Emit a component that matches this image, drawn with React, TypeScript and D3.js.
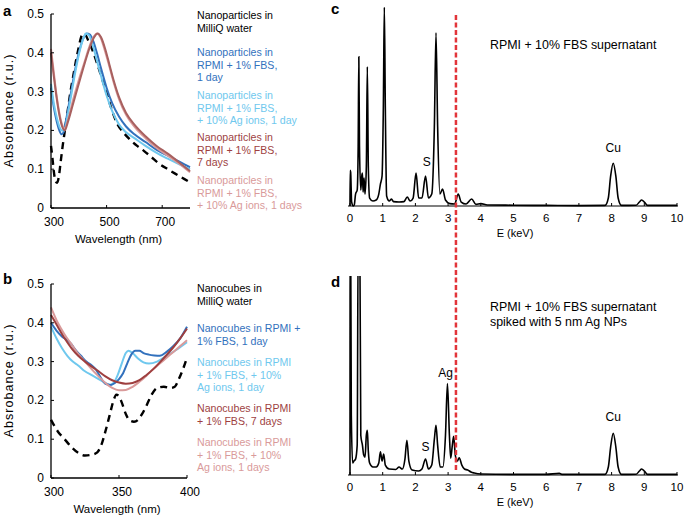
import React from "react";
import * as d3 from "d3";

// ---------- DATA ----------
const aXTicks = [300, 500, 700];
const bXTicks = [300, 350, 400];
const absTicks = [0, 0.1, 0.2, 0.3, 0.4, 0.5];
const eTicks = [0, 1, 2, 3, 4, 5, 6, 7, 8, 9, 10];

// Panel a: nanoparticles (wavelength nm, absorbance)
const aMilliQ: [number, number][] = [[300,0.16],[305,0.13],[310,0.095],[316,0.07],[322,0.065],[328,0.08],[335,0.12],[342,0.16],[350,0.2],[360,0.25],[370,0.3],[380,0.34],[390,0.38],[400,0.415],[408,0.44],[416,0.45],[425,0.445],[435,0.43],[450,0.405],[467,0.37],[485,0.33],[503,0.29],[520,0.25],[540,0.215],[560,0.195],[586,0.175],[610,0.16],[633,0.148],[660,0.132],[684,0.117],[720,0.1],[760,0.083],[800,0.066]];
const aRpmi1d: [number, number][] = [[300,0.31],[310,0.26],[320,0.225],[330,0.2],[338,0.19],[345,0.195],[355,0.23],[370,0.29],[385,0.35],[400,0.4],[415,0.435],[428,0.45],[440,0.447],[452,0.43],[465,0.4],[480,0.36],[500,0.31],[520,0.27],[545,0.235],[570,0.21],[600,0.19],[640,0.17],[680,0.15],[720,0.135],[760,0.12],[800,0.105]];
const aRpmiAg1d: [number, number][] = [[300,0.32],[310,0.27],[320,0.235],[330,0.21],[340,0.2],[348,0.2],[360,0.24],[375,0.3],[390,0.36],[405,0.41],[418,0.44],[425,0.45],[437,0.445],[450,0.42],[465,0.38],[480,0.34],[500,0.29],[520,0.25],[545,0.215],[570,0.195],[600,0.18],[640,0.16],[680,0.142],[720,0.127],[760,0.113],[800,0.1]];
const aRpmi7d: [number, number][] = [[300,0.4],[310,0.34],[320,0.285],[330,0.24],[340,0.21],[350,0.2],[360,0.22],[380,0.27],[400,0.32],[420,0.37],[440,0.415],[455,0.44],[468,0.45],[480,0.44],[495,0.41],[510,0.37],[525,0.33],[545,0.285],[570,0.245],[600,0.215],[640,0.185],[680,0.16],[720,0.14],[760,0.118],[800,0.095]];
const aRpmiAg1ds: [number, number][] = [[300,0.41],[310,0.35],[320,0.29],[330,0.245],[340,0.215],[350,0.205],[360,0.225],[380,0.28],[400,0.33],[420,0.375],[440,0.42],[455,0.443],[465,0.45],[478,0.44],[492,0.41],[508,0.37],[525,0.325],[545,0.28],[570,0.24],[600,0.21],[640,0.18],[680,0.155],[720,0.135],[760,0.115],[800,0.092]];

// Panel b: nanocubes
const bMilliQ: [number, number][] = [[300,0.15],[305,0.12],[310,0.1],[315,0.08],[320,0.065],[325,0.058],[330,0.06],[334,0.066],[337,0.085],[340,0.12],[343,0.16],[346,0.2],[348,0.215],[350,0.21],[352,0.195],[355,0.165],[358,0.148],[361,0.145],[364,0.15],[367,0.165],[370,0.185],[374,0.215],[378,0.232],[383,0.235],[388,0.232],[391,0.235],[394,0.255],[397,0.28],[400,0.31]];
const bRpmi1d: [number, number][] = [[300,0.4],[304,0.38],[308,0.365],[312,0.355],[315,0.345],[318,0.33],[322,0.315],[326,0.3],[330,0.29],[333,0.28],[336,0.262],[340,0.243],[344,0.24],[347,0.245],[350,0.255],[353,0.27],[356,0.295],[359,0.318],[362,0.328],[365,0.328],[368,0.322],[372,0.318],[376,0.316],[380,0.315],[385,0.325],[390,0.34],[395,0.36],[400,0.39]];
const bRpmiAg1d: [number, number][] = [[300,0.39],[304,0.36],[308,0.335],[312,0.315],[316,0.3],[320,0.29],[325,0.275],[330,0.265],[335,0.255],[340,0.245],[343,0.24],[346,0.245],[349,0.265],[352,0.295],[355,0.322],[357,0.328],[360,0.322],[364,0.308],[368,0.298],[372,0.295],[378,0.3],[385,0.315],[392,0.33],[400,0.35]];
const bRpmi7d: [number, number][] = [[300,0.42],[305,0.39],[310,0.36],[315,0.335],[320,0.315],[325,0.3],[330,0.287],[335,0.275],[340,0.262],[345,0.252],[350,0.246],[355,0.243],[360,0.245],[365,0.252],[370,0.265],[375,0.28],[380,0.298],[385,0.317],[390,0.337],[395,0.36],[400,0.385]];
const bRpmiAg1ds: [number, number][] = [[300,0.44],[305,0.4],[310,0.37],[315,0.345],[320,0.32],[325,0.3],[330,0.28],[335,0.262],[340,0.245],[345,0.232],[350,0.226],[355,0.227],[360,0.235],[365,0.248],[370,0.263],[375,0.28],[380,0.295],[385,0.31],[390,0.325],[395,0.34],[400,0.355]];

// Panel c / d: EDX spectra (keV, relative counts)
const cSpectrum: [number, number][] = [[0,0],[0.005,0.18],[0.02,0.17],[0.05,0.02],[0.1,0.0],[0.13,0.005],[0.17,0.06],[0.22,0.08],[0.25,0.3],[0.27,0.75],[0.29,0.3],[0.33,0.08],[0.36,0.15],[0.38,0.165],[0.4,0.07],[0.43,0.14],[0.46,0.06],[0.5,0.2],[0.53,0.7],[0.56,0.2],[0.6,0.04],[0.7,0.025],[0.8,0.03],[0.88,0.06],[0.93,0.11],[0.98,0.15],[1.02,0.5],[1.05,1.0],[1.08,0.5],[1.12,0.05],[1.2,0.025],[1.27,0.035],[1.33,0.022],[1.5,0.02],[1.65,0.022],[1.75,0.045],[1.84,0.025],[1.93,0.04],[2.02,0.165],[2.1,0.04],[2.2,0.04],[2.31,0.15],[2.4,0.04],[2.5,0.06],[2.58,0.4],[2.63,0.87],[2.68,0.4],[2.75,0.06],[2.83,0.085],[2.92,0.03],[3.05,0.012],[3.2,0.01],[3.31,0.06],[3.4,0.02],[3.55,0.01],[3.72,0.035],[3.85,0.008],[4.0,0.012],[4.2,0.005],[5,0.004],[6,0.003],[7,0.002],[7.8,0.003],[7.9,0.04],[7.97,0.15],[8.05,0.215],[8.13,0.15],[8.2,0.04],[8.3,0.003],[8.75,0.004],[8.85,0.02],[8.92,0.03],[9.0,0.02],[9.1,0.003],[10,0.003]];
const dSpectrum: [number, number][] = [[0,0],[0.005,1.2],[0.02,1.2],[0.04,0.3],[0.08,0.06],[0.12,0.07],[0.17,0.08],[0.22,0.15],[0.25,1.2],[0.3,1.2],[0.33,0.2],[0.38,0.15],[0.42,0.1],[0.46,0.09],[0.5,0.2],[0.53,0.225],[0.56,0.12],[0.6,0.06],[0.7,0.04],[0.8,0.04],[0.88,0.06],[0.93,0.117],[0.98,0.07],[1.03,0.105],[1.08,0.05],[1.2,0.03],[1.4,0.028],[1.5,0.04],[1.6,0.03],[1.68,0.08],[1.74,0.175],[1.8,0.07],[1.9,0.025],[2.1,0.02],[2.2,0.03],[2.31,0.08],[2.4,0.03],[2.5,0.05],[2.58,0.18],[2.63,0.25],[2.68,0.15],[2.76,0.04],[2.84,0.04],[2.92,0.2],[2.98,0.46],[3.04,0.2],[3.08,0.085],[3.13,0.15],[3.17,0.195],[3.22,0.1],[3.28,0.07],[3.34,0.087],[3.42,0.05],[3.5,0.03],[3.6,0.025],[3.7,0.015],[3.8,0.01],[4,0.005],[5,0.003],[6,0.003],[6.4,0.008],[6.5,0.003],[7.8,0.003],[7.9,0.04],[7.97,0.14],[8.05,0.21],[8.13,0.14],[8.2,0.04],[8.3,0.003],[8.75,0.004],[8.85,0.02],[8.92,0.03],[9.0,0.02],[9.1,0.003],[10,0.003]];

const agLineKeV = 3.24;

const aLegend = [
  { lines: ["Nanoparticles in", "MilliQ water"], color: "#000000" },
  { lines: ["Nanoparticles in", "RPMI + 1% FBS,", "1 day"], color: "#3271bd" },
  { lines: ["Nanoparticles in", "RPMI + 1% FBS,", "+ 10% Ag ions, 1 day"], color: "#6fc8ee" },
  { lines: ["Nanoparticles in", "RPMI + 1% FBS,", "7 days"], color: "#9e3f3f" },
  { lines: ["Nanoparticles in", "RPMI + 1% FBS,", "+ 10% Ag ions, 1 days"], color: "#d99a9a" },
];
const bLegend = [
  { lines: ["Nanocubes in", "MilliQ water"], color: "#000000" },
  { lines: ["Nanocubes in RPMI +", "1% FBS, 1 day"], color: "#3271bd" },
  { lines: ["Nanocubes in RPMI", "+ 1% FBS, + 10%", "Ag ions, 1 day"], color: "#6fc8ee" },
  { lines: ["Nanocubes in RPMI", "+ 1% FBS, 7 days"], color: "#9e3f3f" },
  { lines: ["Nanocubes in RPMI", "+ 1% FBS, + 10%", "Ag ions, 1 days"], color: "#d99a9a" },
];

const FONT = "'Liberation Sans', Arial, Helvetica, sans-serif";

function fmt(v: number) {
  return v === 0 ? "0" : String(+v.toFixed(1));
}

function AbsPanel(props: {
  x: d3.ScaleLinear<number, number>;
  y: d3.ScaleLinear<number, number>;
  xTicks: number[];
  series: { data: [number, number][]; color: string; dashed?: boolean }[];
  yTitle: string;
  label: string;
  labelY: number;
  legend: { lines: string[]; color: string }[];
  legendTops: number[];
}) {
  const { x, y, xTicks, series, yTitle, label, labelY, legend, legendTops } = props;
  const line = d3.line<[number, number]>().x((d) => x(d[0])).y((d) => y(d[1])).curve(d3.curveMonotoneX);
  const [x0, x1] = x.range();
  const [y0, y1] = y.range();
  return (
    <g fontFamily={FONT}>
      <text x={3} y={labelY} fontSize={15} fontWeight="bold">{label}</text>
      {series.map((s, i) => (
        <path key={i} d={line(s.data) || ""} fill="none" stroke={s.color}
          strokeWidth={s.dashed ? 2.4 : 2} strokeDasharray={s.dashed ? "7,5" : undefined} />
      ))}
      <line x1={x0} x2={x0} y1={y0} y2={y1} stroke="#000" strokeWidth={1.3} />
      <line x1={x0} x2={x1} y1={y0} y2={y0} stroke="#000" strokeWidth={1.3} />
      {absTicks.map((t) => (
        <g key={t}>
          <line x1={x0} x2={x0 + 3} y1={y(t)} y2={y(t)} stroke="#000" />
          <text x={44} y={y(t) + 4} fontSize={12} textAnchor="end">{fmt(t)}</text>
        </g>
      ))}
      {xTicks.map((t) => (
        <g key={t}>
          <line x1={x(t)} x2={x(t)} y1={y0} y2={y0 - 3} stroke="#000" />
          <text x={x(t) + 3} y={y0 + 18} fontSize={12} textAnchor="middle">{t}</text>
        </g>
      ))}
      <text x={(x0 + x1) / 2 - 2} y={y0 + 35} fontSize={11.5} textAnchor="middle">Wavelength (nm)</text>
      <text transform={`translate(13,${(y0 + y1) / 2}) rotate(-90)`} fontSize={12.5} textAnchor="middle"
        textLength={113} lengthAdjust="spacing">{yTitle}</text>
      {legend.map((g, gi) =>
        g.lines.map((l, li) => (
          <text key={gi + "-" + li} x={197} y={legendTops[gi] + li * 12.6} fontSize={10.6} fill={g.color}>{l}</text>
        ))
      )}
    </g>
  );
}

function SpecPanel(props: {
  x: d3.ScaleLinear<number, number>;
  y: d3.ScaleLinear<number, number>;
  data: [number, number][];
  label: string;
  labelY: number;
  clipId: string;
  notes: { text: string; keV: number; v: number }[];
  title: string[];
  titleY: number;
}) {
  const { x, y, data, label, labelY, clipId, notes, title, titleY } = props;
  const line = d3.line<[number, number]>().x((d) => x(d[0])).y((d) => y(d[1])).curve(d3.curveMonotoneX);
  const [x0, x1] = x.range();
  const [y0, y1] = y.range();
  return (
    <g fontFamily={FONT}>
      <defs>
        <clipPath id={clipId}>
          <rect x={x0 - 5} y={y1} width={x1 - x0 + 10} height={y0 - y1 + 2} />
        </clipPath>
      </defs>
      <text x={331} y={labelY} fontSize={15} fontWeight="bold">{label}</text>
      <path d={line(data) || ""} fill="none" stroke="#000" strokeWidth={1.6} clipPath={`url(#${clipId})`} />
      <line x1={x0 - 2} x2={x1 + 1} y1={y0} y2={y0} stroke="#000" strokeWidth={1.1} />
      {eTicks.map((t) => (
        <g key={t}>
          <line x1={x(t)} x2={x(t)} y1={y0} y2={y0 - 3} stroke="#000" />
          <text x={x(t)} y={y0 + 16} fontSize={11.5} textAnchor="middle">{t}</text>
        </g>
      ))}
      <text x={515} y={y0 + 31} fontSize={11} textAnchor="middle">E (keV)</text>
      {notes.map((n, i) => (
        <text key={i} x={x(n.keV)} y={y(n.v)} fontSize={12} textAnchor="middle">{n.text}</text>
      ))}
      {title.map((t, i) => (
        <text key={i} x={490} y={titleY + i * 15} fontSize={12.4}>{t}</text>
      ))}
    </g>
  );
}

export default function App() {
  const xA = d3.scaleLinear().domain([300, 800]).range([51, 190]);
  const yA = d3.scaleLinear().domain([0, 0.5]).range([208, 14]);
  const xB = d3.scaleLinear().domain([300, 400]).range([51, 187]);
  const yB = d3.scaleLinear().domain([0, 0.5]).range([478, 284]);
  const xC = d3.scaleLinear().domain([0, 10]).range([350, 677]);
  const yC = d3.scaleLinear().domain([0, 1]).range([206, 7]);
  const yD = d3.scaleLinear().domain([0, 1]).range([475, 276]);

  return (
    <svg width={685} height={515} style={{ position: "absolute", left: 0, top: 0, background: "#fff" }}>
      <rect width={685} height={515} fill="#fff" />
      <AbsPanel x={xA} y={yA} xTicks={aXTicks} label="a" labelY={16} yTitle="Absorbance (r.u.)"
        series={[
          { data: aMilliQ, color: "#000", dashed: true },
          { data: aRpmi1d, color: "#3271bd" },
          { data: aRpmiAg1d, color: "#6fc8ee" },
          { data: aRpmiAg1ds, color: "#d99a9a" },
          { data: aRpmi7d, color: "#a8605f" },
        ]}
        legend={aLegend} legendTops={[19, 56, 99, 141, 184]} />
      <AbsPanel x={xB} y={yB} xTicks={bXTicks} label="b" labelY={284} yTitle="Absrobance (r.u.)"
        series={[
          { data: bMilliQ, color: "#000", dashed: true },
          { data: bRpmiAg1d, color: "#6fc8ee" },
          { data: bRpmi1d, color: "#3271bd" },
          { data: bRpmiAg1ds, color: "#d99a9a" },
          { data: bRpmi7d, color: "#9e3f3f" },
        ]}
        legend={bLegend} legendTops={[292, 332, 366, 412, 446]} />
      <SpecPanel x={xC} y={yC} data={cSpectrum} label="c" labelY={14} clipId="clipC"
        notes={[{ text: "S", keV: 2.35, v: 0.2 }, { text: "Cu", keV: 8.05, v: 0.27 }]}
        title={["RPMI + 10% FBS supernatant"]} titleY={49} />
      <SpecPanel x={xC} y={yD} data={dSpectrum} label="d" labelY={287} clipId="clipD"
        notes={[{ text: "S", keV: 2.31, v: 0.12 }, { text: "Ag", keV: 2.92, v: 0.49 }, { text: "Cu", keV: 8.05, v: 0.27 }]}
        title={["RPMI + 10% FBS supernatant", "spiked with 5 nm Ag NPs"]} titleY={311} />
      <line x1={xC(agLineKeV)} x2={xC(agLineKeV)} y1={15} y2={470} stroke="#e2343a" strokeWidth={2.5} strokeDasharray="5,2.5" />
    </svg>
  );
}
